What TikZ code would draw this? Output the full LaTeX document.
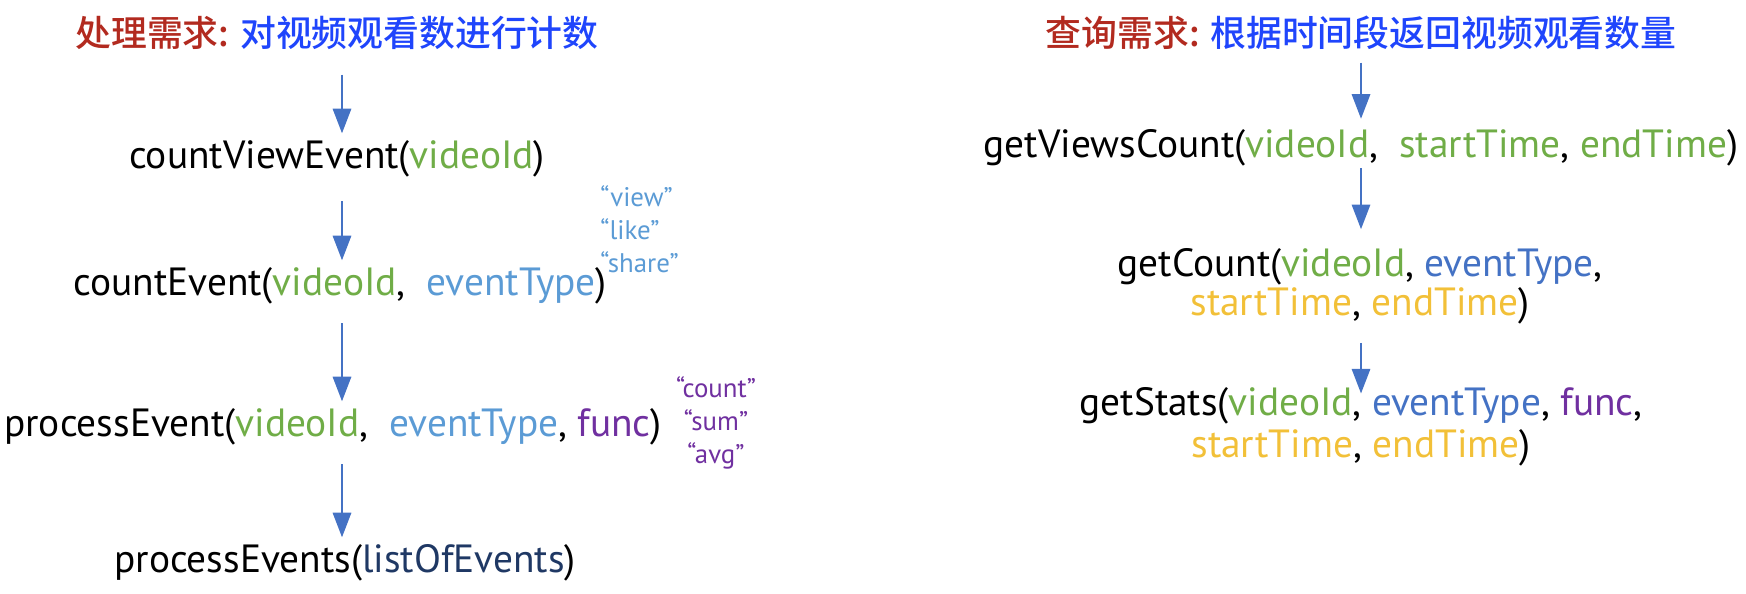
\documentclass[tikz,border=0pt]{standalone}
\usepackage{fontspec}
\setmainfont{PT Sans}
\newfontfamily\cjk{Noto Sans CJK SC}[BoldFont={* Medium}]
\usetikzlibrary{arrows.meta,positioning}
\definecolor{vcred}{HTML}{B22A1F}
\definecolor{vcblue}{HTML}{1F45FC}
\definecolor{vcgreen}{HTML}{70AD47}
\definecolor{vclight}{HTML}{5B9BD5}
\definecolor{vctype}{HTML}{4472C4}
\definecolor{vcyellow}{HTML}{F2C038}
\definecolor{vcpurple}{HTML}{7030A0}
\definecolor{vcnavy}{HTML}{1F3864}
\definecolor{vcarrow}{HTML}{4472C4}
\tikzset{
  vctitle/.style={
    font=\cjk\bfseries\fontsize{20.4}{24}\selectfont, inner sep=0pt
  },
  vccall/.style={
    font=\fontsize{22.4}{22.4}\selectfont, align=center, inner sep=0pt
  },
  vcnote/.style={
    font=\fontsize{15.3}{18.7}\selectfont, align=left, inner sep=0pt
  },
  vcedge/.style={
    -{Triangle[width=10.5pt,length=14pt]}, draw=vcarrow, line width=1pt,
    shorten <=4pt, shorten >=4pt
  }
}

\begin{document}
\begin{tikzpicture}[x=0.02cm,y=-0.02cm]
\useasboundingbox (0,0) rectangle (1746,594);
% Left: counting requirement, one call per step
\begin{scope}
  \coordinate (lx) at (342,0);
  \node[vctitle] (lt) at (337,33) {\textcolor{vcred}{处理需求:} \textcolor{vcblue}{对视频观看数进行计数}};
  \node[vccall] (l1) at (337,159) {countViewEvent(\textcolor{vcgreen}{videoId})};
  \node[vccall] (l2) at (340,286) {countEvent(\textcolor{vcgreen}{videoId},\ \ \textcolor{vclight}{eventType})};
  \node[vccall] (l3) at (333,427) {processEvent(\textcolor{vcgreen}{videoId},\ \ \textcolor{vclight}{eventType}, \textcolor{vcpurple}{func})};
  \node[vccall] (l4) at (345,563) {processEvents(\textcolor{vcnavy}{listOfEvents})};
  \node[vcnote,anchor=west,text=vclight] (ltypes) at (600,229) {“view”\\“like”\\“share”};
  \node[vcnote,align=center,text=vcpurple] (lfuncs) at (716,423) {“count”\\“sum”\\“avg”};
  \draw[vcedge,shorten <=14pt] (lt.south -| lx) -- (l1.north -| lx);
  \draw[vcedge,shorten <=13.5pt] (l1.south -| lx) -- (l2.north -| lx);
  \draw[vcedge,shorten <=10.5pt] (l2.south -| lx) -- (l3.north -| lx);
  \draw[vcedge,shorten <=10.5pt] (l3.south -| lx) -- (l4.north -| lx);
\end{scope}

% Right: query requirement with a time range
\begin{scope}
  \coordinate (rx) at (1361,0);
  \node[vctitle] (rt) at (1361,33) {\textcolor{vcred}{查询需求:} \textcolor{vcblue}{根据时间段返回视频观看数量}};
  \node[vccall] (r1) at (1361,148) {getViewsCount(\textcolor{vcgreen}{videoId},\ \ \textcolor{vcgreen}{startTime}, \textcolor{vcgreen}{endTime})};
  \node[vccall] (r2) at (1360,286) {getCount(\textcolor{vcgreen}{videoId}, \textcolor{vctype}{eventType},\\\textcolor{vcyellow}{startTime}, \textcolor{vcyellow}{endTime})};
  \node[vccall] (r3) at (1361,427) {getStats(\textcolor{vcgreen}{videoId}, \textcolor{vctype}{eventType}, \textcolor{vcpurple}{func},\\[1.5pt]\textcolor{vcyellow}{startTime}, \textcolor{vcyellow}{endTime})};
  \draw[vcedge,shorten <=7pt,shorten >=6pt] (rt.south -| rx) -- (r1.north -| rx);
  \draw[vcedge,shorten <=1pt,shorten >=10.5pt] (r1.south -| rx) -- (r2.north -| rx);
  \draw[vcedge,shorten <=10.5pt,shorten >=-3.5pt] (r2.south -| rx) -- (r3.north -| rx);
\end{scope}
\end{tikzpicture}
\end{document}
